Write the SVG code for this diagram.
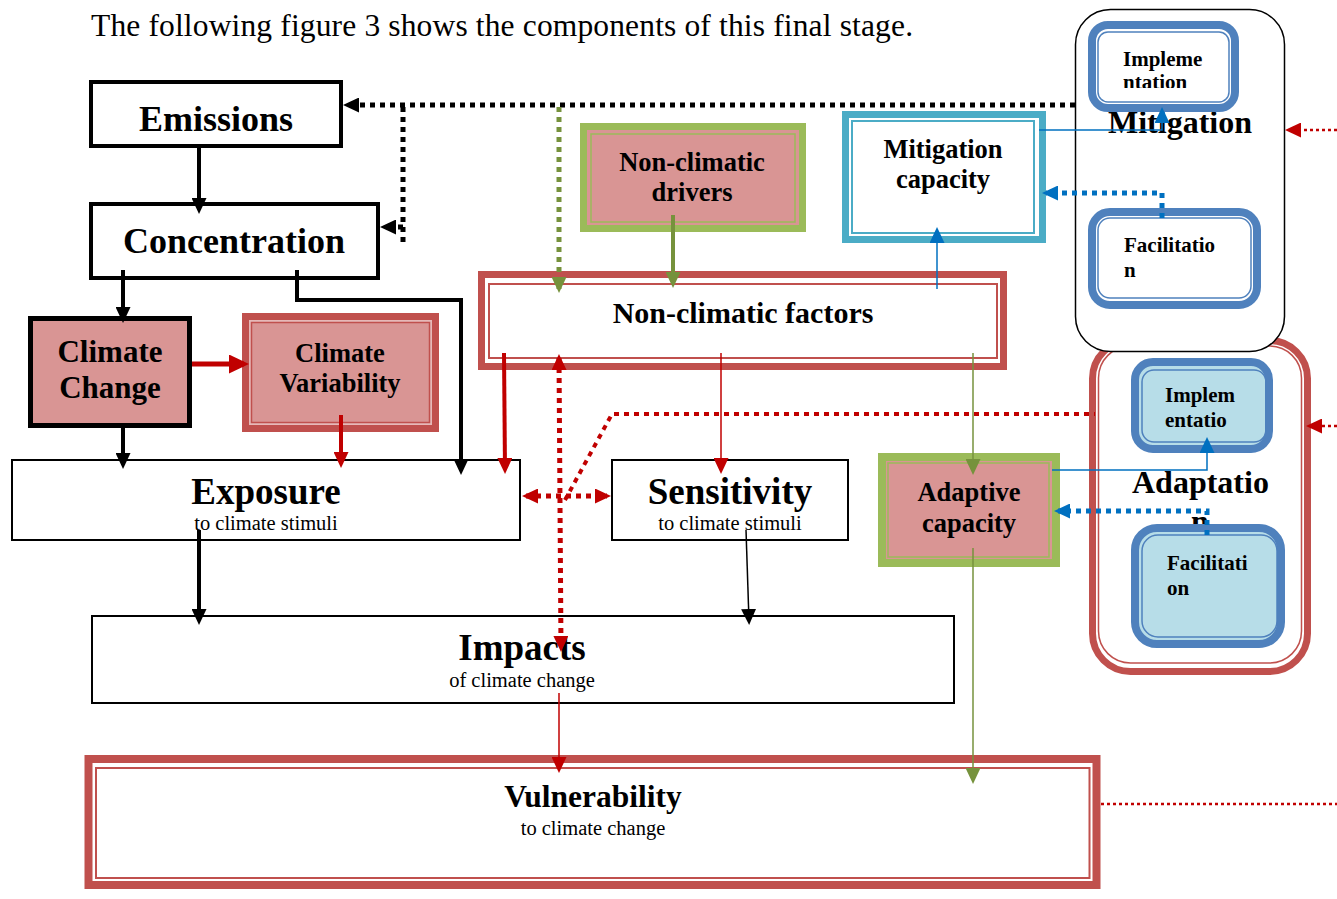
<svg xmlns="http://www.w3.org/2000/svg" width="1337" height="899" viewBox="0 0 1337 899">
<style>
.t{font-family:'Liberation Serif','Times New Roman',serif;fill:#000}
.b{font-weight:bold}
.m{text-anchor:middle}
.blk{fill:#fff;stroke:#000}
.band-r{stroke:#c0504d}
.thin-r{fill:none;stroke:#c0504d;stroke-width:2}
.band-g{stroke:#9bbb59}
.thin-g{fill:none;stroke:#9bbb59;stroke-width:1.5}
.band-b{stroke:#4f81bd;stroke-width:8}
.thin-b{fill:none;stroke:#4f81bd;stroke-width:1.5}
.c{fill:none}
.dot{stroke-dasharray:5 5}
.fdot{stroke-dasharray:3 3}
</style>
<defs>
<marker id="ak" markerUnits="userSpaceOnUse" markerWidth="16" markerHeight="15" refX="12" refY="7.5" orient="auto-start-reverse"><path d="M0,0 L16,7.5 L0,15 z" fill="#000"/></marker>
<marker id="ar" markerUnits="userSpaceOnUse" markerWidth="16" markerHeight="15" refX="12" refY="7.5" orient="auto-start-reverse"><path d="M0,0 L16,7.5 L0,15 z" fill="#c00000"/></marker>
<marker id="arb" markerUnits="userSpaceOnUse" markerWidth="20" markerHeight="19" refX="15" refY="9.5" orient="auto"><path d="M0,0 L20,9.5 L0,19 z" fill="#c00000"/></marker>
<marker id="ag" markerUnits="userSpaceOnUse" markerWidth="16" markerHeight="15" refX="12" refY="7.5" orient="auto"><path d="M0,0 L16,7.5 L0,15 z" fill="#76923c"/></marker>
<marker id="ab" markerUnits="userSpaceOnUse" markerWidth="16" markerHeight="15" refX="12" refY="7.5" orient="auto"><path d="M0,0 L16,7.5 L0,15 z" fill="#0070c0"/></marker>
<clipPath id="clipImpl"><rect x="1098" y="32" width="131" height="56"/></clipPath>
</defs>
<rect x="0" y="0" width="1337" height="899" fill="#fff"/>

<text class="t" x="91" y="36" font-size="31.5" textLength="822" lengthAdjust="spacing">The following figure 3 shows the components of this final stage.</text>

<g id="emissions">
<rect class="blk" x="91" y="82" width="250" height="64" stroke-width="4"/>
<text class="t b m" x="216" y="131" font-size="36">Emissions</text>
</g>
<g id="concentration">
<rect class="blk" x="91" y="204" width="287" height="74" stroke-width="4"/>
<text class="t b m" x="234" y="253" font-size="36">Concentration</text>
</g>
<g id="climate-change">
<rect x="30.5" y="318.5" width="159" height="107" fill="#d99594" stroke="#000" stroke-width="5"/>
<text class="t b m" x="110" y="362" font-size="31">Climate</text>
<text class="t b m" x="110" y="398" font-size="31">Change</text>
</g>
<g id="climate-variability">
<rect class="band-r" x="245.5" y="316.5" width="190" height="112" fill="#e6b9b8" stroke-width="7"/>
<rect x="251.5" y="322.5" width="178" height="100" fill="#d99594" stroke="#c0504d" stroke-width="1.5"/>
<text class="t b m" x="340" y="362" font-size="26.5">Climate</text>
<text class="t b m" x="340" y="392" font-size="26.5">Variability</text>
</g>
<g id="exposure">
<rect class="blk" x="12" y="460" width="508" height="80" stroke-width="2"/>
<text class="t b m" x="266" y="504" font-size="37">Exposure</text>
<text class="t m" x="266" y="530" font-size="20.5">to climate stimuli</text>
</g>
<g id="sensitivity">
<rect class="blk" x="612" y="460" width="236" height="80" stroke-width="2"/>
<text class="t b m" x="730" y="504" font-size="37">Sensitivity</text>
<text class="t m" x="730" y="530" font-size="20.5">to climate stimuli</text>
</g>
<g id="impacts">
<rect class="blk" x="92" y="616" width="862" height="87" stroke-width="2"/>
<text class="t b m" x="522" y="660" font-size="37">Impacts</text>
<text class="t m" x="522" y="687" font-size="20.5">of climate change</text>
</g>
<g id="vulnerability">
<rect class="band-r" x="88.5" y="759" width="1008" height="126" fill="#fff" stroke-width="8"/>
<rect class="thin-r" x="96" y="768" width="993.5" height="110"/>
<text class="t b m" x="593" y="807" font-size="31.5">Vulnerability</text>
<text class="t m" x="593" y="835" font-size="20.5">to climate change</text>
</g>
<g id="non-climatic-factors">
<rect class="band-r" x="481.5" y="274.5" width="522" height="92" fill="#fff" stroke-width="7"/>
<rect class="thin-r" x="489" y="284" width="508" height="74"/>
<text class="t b m" x="743" y="323" font-size="30">Non-climatic factors</text>
</g>
<g id="non-climatic-drivers">
<rect class="band-g" x="583.5" y="126.5" width="219" height="102" fill="#d99594" stroke-width="7"/>
<rect class="thin-g" x="591" y="134" width="204" height="88"/>
<text class="t b m" x="692" y="171" font-size="26.5">Non-climatic</text>
<text class="t b m" x="692" y="201" font-size="26.5">drivers</text>
</g>
<g id="mitigation-capacity">
<rect x="845.5" y="114.5" width="197" height="125" fill="#fff" stroke="#4bacc6" stroke-width="7"/>
<rect x="852" y="121" width="182" height="112" fill="none" stroke="#4bacc6" stroke-width="2"/>
<text class="t b m" x="943" y="158" font-size="26.5">Mitigation</text>
<text class="t b m" x="943" y="188" font-size="26.5">capacity</text>
</g>
<g id="adaptive-capacity">
<rect class="band-g" x="882" y="457" width="174" height="106" fill="#d99594" stroke-width="8"/>
<rect class="thin-g" x="888" y="463" width="161" height="94"/>
<text class="t b m" x="969" y="501" font-size="26.5">Adaptive</text>
<text class="t b m" x="969" y="532" font-size="26.5">capacity</text>
</g>

<g id="adaptation">
<rect class="band-r" x="1092.5" y="340.5" width="215" height="331" rx="38" fill="#fff" stroke-width="7"/>
<rect x="1098.5" y="346" width="203" height="317" rx="32" fill="none" stroke="#c0504d" stroke-width="1.5"/>
<text class="t b" x="1132" y="493" font-size="32">Adaptatio</text>
<text class="t b m" x="1200" y="532" font-size="32">n</text>
</g>
<g id="adaptation-implementation">
<rect class="band-b" x="1135" y="362" width="134" height="87" rx="18" fill="#b7dde8"/>
<rect class="thin-b" x="1142" y="370" width="124" height="72" rx="12"/>
<text class="t b" x="1165" y="402" font-size="21">Implem</text>
<text class="t b" x="1165" y="427" font-size="21">entatio</text>
</g>
<g id="adaptation-facilitation">
<rect class="band-b" x="1135" y="528" width="146" height="116" rx="22" fill="#b7dde8"/>
<rect class="thin-b" x="1142" y="535" width="135" height="102" rx="16"/>
<text class="t b" x="1167" y="570" font-size="21">Facilitati</text>
<text class="t b" x="1167" y="595" font-size="21">on</text>
</g>

<g id="mitigation">
<rect x="1075.5" y="9.5" width="209" height="342" rx="35" fill="#fff" stroke="#000" stroke-width="1.5"/>
<text class="t b m" x="1180" y="133" font-size="32">Mitigation</text>
</g>
<g id="mitigation-implementation">
<rect class="band-b" x="1092" y="25" width="143" height="83" rx="16" fill="#fff"/>
<rect class="thin-b" x="1098" y="32" width="131" height="70" rx="10"/>
<text class="t b" x="1123" y="66" font-size="21">Impleme</text>
<text class="t b" x="1123" y="89" font-size="21" clip-path="url(#clipImpl)">ntation</text>
</g>
<g id="mitigation-facilitation">
<rect class="band-b" x="1092" y="212" width="165" height="93" rx="18" fill="#fff"/>
<rect class="thin-b" x="1098" y="218" width="153" height="80" rx="12"/>
<text class="t b" x="1124" y="252" font-size="21">Facilitatio</text>
<text class="t b" x="1124" y="277" font-size="21">n</text>
</g>

<g id="connectors" fill="none">
<!-- black solid -->
<g stroke="#000" stroke-width="4">
<path d="M199,146 V210" marker-end="url(#ak)"/>
<path d="M123,270 V319" marker-end="url(#ak)"/>
<path d="M297,270 V300 H461 V471" marker-end="url(#ak)"/>
<path d="M123,426 V465" marker-end="url(#ak)"/>
<path d="M199,530 V621" marker-end="url(#ak)"/>
</g>
<path d="M746,530 L749,621" stroke="#000" stroke-width="1.5" marker-end="url(#ak)"/>
<!-- black dotted -->
<g stroke="#000" stroke-width="5" class="dot">
<path d="M1075,105 H347" marker-end="url(#ak)"/>
<path d="M403,107 V242"/>
<path d="M403,227 H384" marker-end="url(#ak)"/>
</g>
<!-- red -->
<path d="M192,364 H244" stroke="#c00000" stroke-width="5" marker-end="url(#arb)"/>
<path d="M341,415 V464" stroke="#c00000" stroke-width="4" marker-end="url(#ar)"/>
<path d="M504,353 L505,470" stroke="#c00000" stroke-width="4" marker-end="url(#ar)"/>
<path d="M721,353 V470" stroke="#c00000" stroke-width="1.5" marker-end="url(#ar)"/>
<path d="M559,693 V769" stroke="#c00000" stroke-width="1.5" marker-end="url(#ar)"/>
<g stroke="#c00000" stroke-width="5" class="dot">
<path d="M559,358 L561,648" marker-start="url(#ar)" marker-end="url(#ar)"/>
<path d="M526,496 H607" marker-start="url(#ar)" marker-end="url(#ar)"/>
</g>
<path d="M565,500 L612,414 H1095" stroke="#c00000" stroke-width="4" class="dot"/>
<g stroke="#c00000" stroke-width="2.5" class="fdot">
<path d="M1337,130 H1289" marker-end="url(#ar)"/>
<path d="M1337,426 H1310" marker-end="url(#ar)"/>
<path d="M1101,804 H1337"/>
</g>
<!-- green -->
<path d="M559,107 V289" stroke="#76923c" stroke-width="5" class="dot" marker-end="url(#ag)"/>
<path d="M673,215 V284" stroke="#76923c" stroke-width="4" marker-end="url(#ag)"/>
<path d="M973,353 V471" stroke="#76923c" stroke-width="1.5" marker-end="url(#ag)"/>
<path d="M973,548 V780" stroke="#76923c" stroke-width="1.5" marker-end="url(#ag)"/>
<!-- blue -->
<g stroke="#0070c0" stroke-width="1.5">
<path d="M937,289 V231" marker-end="url(#ab)"/>
<path d="M1039,130 H1162 V111" marker-end="url(#ab)"/>
<path d="M1052,470 H1207 V441" marker-end="url(#ab)"/>
</g>
<g stroke="#0070c0" stroke-width="5" class="dot">
<path d="M1162,218 V193 H1046" marker-end="url(#ab)"/>
<path d="M1207,535 V511 H1058" marker-end="url(#ab)"/>
</g>
</g>
</svg>
